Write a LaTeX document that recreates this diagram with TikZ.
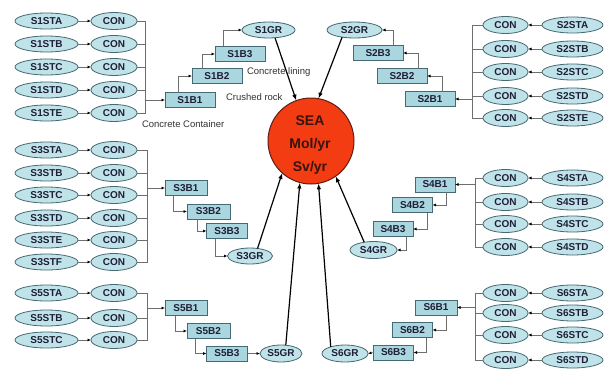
\documentclass[tikz,border=0pt]{standalone}
\usepackage{fontspec}
\setmainfont{Liberation Sans}
\usetikzlibrary{arrows.meta,shapes.geometric}
\definecolor{nfill}{RGB}{192,227,233}
\definecolor{rfill}{RGB}{170,215,223}
\definecolor{nbord}{RGB}{70,105,115}
\definecolor{ntext}{RGB}{30,30,55}
\definecolor{seafill}{RGB}{244,60,18}
\definecolor{seabord}{RGB}{90,30,20}
\definecolor{seatext}{RGB}{55,20,15}
\definecolor{gline}{RGB}{110,110,110}
\begin{document}
\begin{tikzpicture}[x=1pt,y=-1pt,
 every node/.style={inner sep=0pt, outer sep=0pt},
 el/.style={ellipse, draw=nbord, line width=0.8pt, fill=nfill, font=\bfseries\fontsize{10}{10}\selectfont, text=ntext},
 st/.style={el, minimum width=63pt, minimum height=16pt},
 con/.style={el, minimum width=46pt, minimum height=17pt},
 gr/.style={el, minimum height=16pt},
 bx/.style={rectangle, draw=nbord, line width=0.6pt, fill=rfill, font=\bfseries\fontsize{10}{10}\selectfont, text=ntext, minimum height=15pt},
 lbl/.style={font=\fontsize{9.5}{10}\selectfont, text=black!80, anchor=west},
 sarr/.style={-{Latex[length=3.5pt,width=3pt,color=black]}, gline, line width=0.7pt},
 gl/.style={gline, line width=0.7pt},
 big/.style={-{Latex[length=6pt,width=4.5pt]}, black, line width=1.2pt}]
\fill[white] (0,0) rectangle (609,369);
\useasboundingbox (0,0) rectangle (609,369);

% ---------- SEA ----------
\node[circle, draw=seabord, line width=1pt, fill=seafill, minimum size=86pt] (sea) at (311,141) {};
\node[font=\bfseries\fontsize{14}{23}\selectfont, text=seatext, align=center] (seatxt) at (310,145) {SEA\\Mol/yr\\Sv/yr};

% ---------- Section 1 ----------
\coordinate (j1) at (145,100);
\foreach \yy/\l in {21/A,44/B,67/C,90/D,113/E}{
  \node[st] (s1st\l) at (46.5,\yy) {S1ST\l};
  \node[con] (c1\l) at (114,\yy) {CON};
  \draw[sarr] (s1st\l) -- (c1\l);
  \draw[gl] (c1\l.east) -| (j1);
}
\node[bx, minimum width=50pt] (s1b1) at (190,100) {S1B1};
\node[bx, minimum width=50pt] (s1b2) at (217,76) {S1B2};
\node[bx, minimum width=50pt] (s1b3) at (240,54) {S1B3};
\node[gr, minimum width=53pt] (s1gr) at (268.5,30) {S1GR};
\draw[sarr] (j1) -- (s1b1.west);
\draw[sarr] ([xshift=-12pt]s1b1.north) |- (s1b2.west);
\draw[sarr] ([xshift=-15pt]s1b2.north) |- (s1b3.west);
\draw[sarr] ([xshift=-17pt]s1b3.north) |- (s1gr.west);
\node[lbl] (lab1) at (247,72) {Concrete lining};
\node[lbl] (lab2) at (226,97) {Crushed rock};
\node[lbl] (lab3) at (142,124) {Concrete Container};

% ---------- Section 2 ----------
\coordinate (j2) at (472,99);
\foreach \yy/\l in {25/A,49/B,72/C,96/D,118/E}{
  \node[st, minimum width=61pt] (s2st\l) at (572.5,\yy) {S2ST\l};
  \node[con, minimum width=45pt] (c2\l) at (505.5,\yy) {CON};
  \draw[sarr] (s2st\l) -- (c2\l);
  \draw[gl] (c2\l.west) -| (j2);
}
\node[bx, minimum width=50pt] (s2b1) at (430,99) {S2B1};
\node[bx, minimum width=50pt] (s2b2) at (402,76) {S2B2};
\node[bx, minimum width=50pt] (s2b3) at (378,53) {S2B3};
\node[gr, minimum width=55pt] (s2gr) at (354.5,30) {S2GR};
\draw[sarr] (j2) -- (s2b1.east);
\draw[sarr] ([xshift=12pt]s2b1.north) |- (s2b2.east);
\draw[sarr] ([xshift=16pt]s2b2.north) |- (s2b3.east);
\draw[sarr] ([xshift=15pt]s2b3.north) |- (s2gr.east);

% ---------- Section 3 ----------
\coordinate (j3) at (147,188);
\foreach \yy/\l in {150/A,173/B,195/C,218/D,240/E,262/F}{
  \node[st] (s3st\l) at (46.5,\yy) {S3ST\l};
  \node[con] (c3\l) at (114,\yy) {CON};
  \draw[sarr] (s3st\l) -- (c3\l);
  \draw[gl] (c3\l.east) -| (j3);
}
\node[bx, minimum width=42pt] (s3b1) at (186,188) {S3B1};
\node[bx, minimum width=43pt] (s3b2) at (208.5,211.5) {S3B2};
\node[bx, minimum width=41pt] (s3b3) at (227,231) {S3B3};
\node[gr, minimum width=45pt] (s3gr) at (250,256) {S3GR};
\draw[sarr] (j3) -- (s3b1.west);
\draw[sarr] ([xshift=-13pt]s3b1.south) |- (s3b2.west);
\draw[sarr] ([xshift=-11pt]s3b2.south) |- (s3b3.west);
\draw[sarr] ([xshift=-12pt]s3b3.south) |- (s3gr.west);

% ---------- Section 4 ----------
\coordinate (j4) at (475,184.5);
\foreach \yy/\l in {178/A,202/B,224/C,247/D}{
  \node[st, minimum width=61pt] (s4st\l) at (572.5,\yy) {S4ST\l};
  \node[con, minimum width=45pt] (c4\l) at (505.5,\yy) {CON};
  \draw[sarr] (s4st\l) -- (c4\l);
  \draw[gl] (c4\l.west) -| (j4);
}
\node[bx, minimum width=40pt] (s4b1) at (435,184.5) {S4B1};
\node[bx, minimum width=40pt] (s4b2) at (412.5,205) {S4B2};
\node[bx, minimum width=40pt] (s4b3) at (393,229) {S4B3};
\node[gr, minimum width=47pt, minimum height=17pt] (s4gr) at (373.5,250) {S4GR};
\draw[sarr] (j4) -- (s4b1.east);
\draw[sarr] ([xshift=11pt]s4b1.south) |- (s4b2.east);
\draw[sarr] ([xshift=15pt]s4b2.south) |- (s4b3.east);
\draw[sarr] ([xshift=13pt]s4b3.south) |- (s4gr.east);

% ---------- Section 5 ----------
\coordinate (j5) at (147,308);
\foreach \yy/\l in {293/A,318/B,340/C}{
  \node[st] (s5st\l) at (46.5,\yy) {S5ST\l};
  \node[con] (c5\l) at (114,\yy) {CON};
  \draw[sarr] (s5st\l) -- (c5\l);
  \draw[gl] (c5\l.east) -| (j5);
}
\node[bx, minimum width=42pt] (s5b1) at (186,308) {S5B1};
\node[bx, minimum width=43pt] (s5b2) at (208.5,331) {S5B2};
\node[bx, minimum width=41pt] (s5b3) at (227,353.5) {S5B3};
\node[gr, minimum width=42pt, minimum height=17pt] (s5gr) at (281,353.5) {S5GR};
\draw[sarr] (j5) -- (s5b1.west);
\draw[sarr] ([xshift=-11pt]s5b1.south) |- (s5b2.west);
\draw[sarr] ([xshift=-13pt]s5b2.south) |- (s5b3.west);
\draw[sarr] (s5b3.east) -- (s5gr.west);

% ---------- Section 6 ----------
\coordinate (j6) at (475,307.5);
\foreach \yy/\l in {293/A,313/B,335/C,360/D}{
  \node[st, minimum width=61pt] (s6st\l) at (572.5,\yy) {S6ST\l};
  \node[con, minimum width=45pt] (c6\l) at (505.5,\yy) {CON};
  \draw[sarr] (s6st\l) -- (c6\l);
  \draw[gl] (c6\l.west) -| (j6);
}
\node[bx, minimum width=42pt] (s6b1) at (436,307.5) {S6B1};
\node[bx, minimum width=40pt] (s6b2) at (412.5,330) {S6B2};
\node[bx, minimum width=40pt] (s6b3) at (393.5,352.5) {S6B3};
\node[gr, minimum width=46pt, minimum height=17pt] (s6gr) at (345,353.5) {S6GR};
\draw[sarr] (j6) -- (s6b1.east);
\draw[sarr] ([xshift=10pt]s6b1.south) |- (s6b2.east);
\draw[sarr] ([xshift=14pt]s6b2.south) |- (s6b3.east);
\draw[sarr] (s6b3.west) -- (s6gr.east);

% ---------- arrows into SEA ----------
\draw[big] (s1gr.-50) -- (sea.110);
\draw[big] (s2gr.-150) -- (sea.80);
\draw[big] (s3gr.45) -- (sea.228);
\draw[big] (s4gr.140) -- (sea.305);
\draw[big] (s5gr.60) -- (sea.255);
\draw[big] (s6gr.155) -- (sea.280);
\end{tikzpicture}
\end{document}
